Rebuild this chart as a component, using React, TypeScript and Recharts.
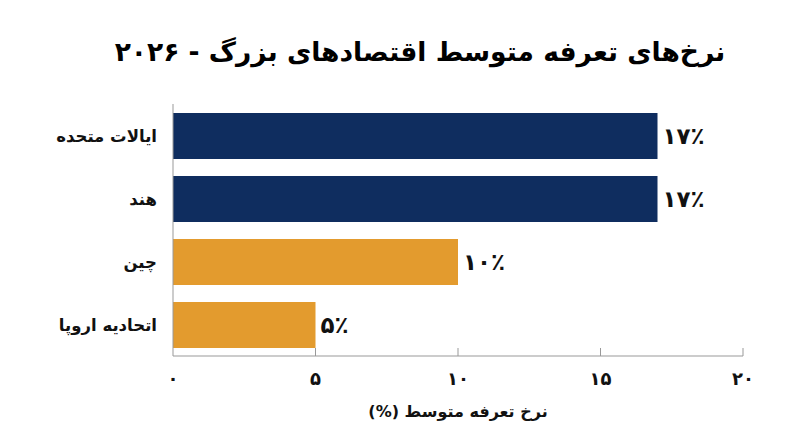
import { Bar, BarChart, Cell, LabelList, XAxis, YAxis } from 'recharts';

const countries = ['ایالات متحده', 'هند', 'چین', 'اتحادیه اروپا'];
const tariffRates = [17, 17, 10, 5];
const xTicks = [0, 5, 10, 15, 20];

const title = 'نرخ‌های تعرفه متوسط اقتصادهای بزرگ - ۲۰۲۶';
const xLabel = 'نرخ تعرفه متوسط (%)';

const NAVY = '#0f2d5f';
const ORANGE = '#e39b2e';
const barColors = [NAVY, NAVY, ORANGE, ORANGE];

const FONT = '"DejaVu Sans", sans-serif';

const data = countries.map((name, i) => ({ name, rate: tariffRates[i] }));

const fa = (n: number | string) =>
  String(n).replace(/[0-9]/g, (d) => '۰۱۲۳۴۵۶۷۸۹'[Number(d)]);

const XTick = (props: any) => {
  const { x, y, payload } = props;
  return (
    <g>
      {payload.value !== 0 && (
        <line x1={x} x2={x} y1={y - 8} y2={y} stroke="#999" strokeWidth={1} />
      )}
      <text
        x={x}
        y={y + 29}
        textAnchor="middle"
        fontFamily={FONT}
        fontWeight="bold"
        fontSize={18}
        fill="#111"
      >
        {fa(payload.value)}
      </text>
    </g>
  );
};

const YTick = (props: any) => {
  const { x, y, payload } = props;
  return (
    <text
      x={x - 8}
      y={y + 6}
      textAnchor="end"
      fontFamily={FONT}
      fontWeight="bold"
      fontSize={16.5}
      fill="#111"
    >
      {payload.value}
    </text>
  );
};

const App = () => (
  <div
    style={{
      position: 'fixed',
      top: 0,
      left: 0,
      width: 800,
      height: 447,
      background: '#fff',
    }}
  >
    <div
      dir="rtl"
      style={{
        position: 'absolute',
        top: 28,
        left: 20,
        width: 800,
        textAlign: 'center',
        fontFamily: FONT,
        fontWeight: 'bold',
        fontSize: 26.5,
        color: '#000',
        lineHeight: '48px',
      }}
    >
      {title}
    </div>
    <BarChart
      width={800}
      height={447}
      data={data}
      layout="vertical"
      margin={{ top: 104, right: 57, bottom: 51, left: 0 }}
      barSize={46}
    >
      <XAxis
        type="number"
        domain={[0, 20]}
        ticks={xTicks}
        interval={0}
        height={40}
        tickSize={0}
        tickMargin={0}
        tickLine={false}
        axisLine={{ stroke: '#999' }}
        tick={<XTick />}
      />
      <YAxis
        type="category"
        dataKey="name"
        width={173}
        tickLine={false}
        axisLine={{ stroke: '#999' }}
        tick={<YTick />}
      />
      <Bar dataKey="rate" isAnimationActive={false}>
        {data.map((d, i) => (
          <Cell key={d.name} fill={barColors[i]} />
        ))}
        <LabelList
          dataKey="rate"
          position="right"
          offset={5}
          formatter={(v: any) => `${fa(v)}٪`}
          style={{
            fontFamily: FONT,
            fontWeight: 'bold',
            fontSize: 23,
            fill: '#111',
          }}
        />
      </Bar>
    </BarChart>
    <div
      dir="rtl"
      style={{
        position: 'absolute',
        top: 398,
        left: 173,
        width: 570,
        textAlign: 'center',
        fontFamily: FONT,
        fontWeight: 'bold',
        fontSize: 16,
        color: '#111',
        lineHeight: '28px',
      }}
    >
      {xLabel}
    </div>
  </div>
);

export default App;
